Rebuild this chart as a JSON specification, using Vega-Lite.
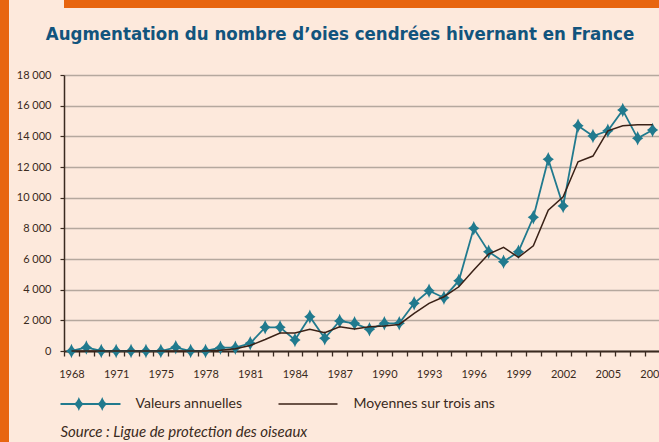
{
  "$schema": "https://vega.github.io/schema/vega-lite/v6.json",
  "padding": 0,
  "background": "#fde9dc",
  "config": {
    "view": {"stroke": null},
    "font": "Lato",
    "axisY": {
      "grid": true, "gridColor": "#b5a89e", "gridWidth": 1.5,
      "domainColor": "#3a2a20", "domainWidth": 1.5,
      "tickColor": "#3a2a20", "tickSize": 4, "tickWidth": 1.2,
      "labelFont": "Lato", "labelFontSize": 11, "labelColor": "#3a2a20", "labelPadding": 9,
      "labelOverlap": false, "minExtent": 55, "maxExtent": 55, "title": null
    },
    "axisX": {
      "grid": false, "domainColor": "#3a2a20", "domainWidth": 2,
      "tickColor": "#3a2a20", "tickSize": 5, "tickWidth": 1.3,
      "labelFont": "Lato", "labelFontSize": 11, "labelColor": "#3a2a20", "labelPadding": 12,
      "labelAngle": 0, "labelOverlap": false, "title": null
    }
  },
  "datasets": {
    "goose": [
      {"year": "1968", "annual": 0, "avg": 0},
      {"year": "1969", "annual": 230, "avg": 0},
      {"year": "1970", "annual": 0, "avg": 0},
      {"year": "1971", "annual": 0, "avg": 0},
      {"year": "1972", "annual": 0, "avg": 0},
      {"year": "1973", "annual": 0, "avg": 0},
      {"year": "1975", "annual": 0, "avg": 0},
      {"year": "1976", "annual": 240, "avg": 0},
      {"year": "1977", "annual": 0, "avg": 0},
      {"year": "1978", "annual": 0, "avg": 0},
      {"year": "1979", "annual": 215, "avg": 50},
      {"year": "1980", "annual": 215, "avg": 150},
      {"year": "1981", "annual": 500, "avg": 360},
      {"year": "1982", "annual": 1545, "avg": 750},
      {"year": "1983", "annual": 1545, "avg": 1170},
      {"year": "1984", "annual": 717, "avg": 1170},
      {"year": "1985", "annual": 2236, "avg": 1415},
      {"year": "1986", "annual": 828, "avg": 1190},
      {"year": "1987", "annual": 1956, "avg": 1585},
      {"year": "1988", "annual": 1806, "avg": 1434},
      {"year": "1989", "annual": 1415, "avg": 1585},
      {"year": "1990", "annual": 1806, "avg": 1630},
      {"year": "1991", "annual": 1806, "avg": 1730},
      {"year": "1992", "annual": 3110, "avg": 2458},
      {"year": "1993", "annual": 3930, "avg": 3110},
      {"year": "1994", "annual": 3475, "avg": 3540},
      {"year": "1995", "annual": 4585, "avg": 4190},
      {"year": "1996", "annual": 8000, "avg": 5280},
      {"year": "1997", "annual": 6475, "avg": 6325},
      {"year": "1998", "annual": 5820, "avg": 6760},
      {"year": "1999", "annual": 6475, "avg": 6110},
      {"year": "2000", "annual": 8720, "avg": 6865},
      {"year": "2001", "annual": 12500, "avg": 9190},
      {"year": "2002", "annual": 9450, "avg": 10060},
      {"year": "2003", "annual": 14690, "avg": 12340},
      {"year": "2004", "annual": 14020, "avg": 12715},
      {"year": "2005", "annual": 14365, "avg": 14360},
      {"year": "2006", "annual": 15710, "avg": 14690},
      {"year": "2007", "annual": 13870, "avg": 14755},
      {"year": "2008", "annual": 14410, "avg": 14755}
    ]
  },
  "spacing": 0,
  "align": "none",
  "resolve": {"scale": {"color": "independent", "shape": "independent"}},
  "hconcat": [
    {
      "width": 9, "height": 442,
      "data": {"values": [{"k": 1}]},
      "mark": {"type": "rect", "color": "#e8650f"},
      "encoding": {}
    },
    {
      "spacing": 16,
      "align": "none",
      "resolve": {"scale": {"color": "independent", "shape": "independent"}},
      "vconcat": [
        {
          "width": 650, "height": 8,
          "data": {"values": [{"k": 1}]},
          "mark": {"type": "rect", "color": "#e8650f"},
          "encoding": {}
        },
        {
          "width": 596, "height": 276,
          "data": {"name": "goose"},
          "title": {
            "text": "Augmentation du nombre d’oies cendrées hivernant en France",
            "font": "Liberation Sans Narrow, DejaVu Sans Condensed, sans-serif", "fontSize": 18.5, "fontWeight": "bold",
            "color": "#12547d", "anchor": "middle", "offset": 26, "dx": -22
          },
          "encoding": {
            "x": {
              "field": "year", "type": "ordinal", "sort": null, "bandPosition": 0.5,
              "scale": {"type": "band", "paddingInner": 0, "paddingOuter": 0},
              "axis": {
                "tickBand": "extent",
                "labelExpr": "indexof(['1968','1971','1975','1978','1981','1984','1987','1990','1993','1996','1999','2002','2005','2008'], datum.value) >= 0 ? datum.value : ''"
              }
            }
          },
          "layer": [
            {
              "mark": {"type": "line", "color": "#217a8e", "strokeWidth": 1.8},
              "encoding": {
                "y": {
                  "field": "annual", "type": "quantitative",
                  "scale": {"domain": [0, 18000], "nice": false},
                  "axis": {
                    "title": null, "tickCount": 20,
                    "values": [0, 2000, 4000, 6000, 8000, 10000, 12000, 14000, 16000, 18000],
                    "labelExpr": "replace(format(datum.value, ','), ',', ' ')"
                  }
                }
              }
            },
            {
              "mark": {
                "type": "point", "filled": true, "opacity": 1, "color": "#217a8e", "size": 210,
                "shape": "M0,-1Q0.25,-0.25 0.78,0Q0.25,0.25 0,1Q-0.25,0.25 -0.78,0Q-0.25,-0.25 0,-1Z"
              },
              "encoding": {"y": {"field": "annual", "type": "quantitative",
                "axis": {
                    "title": null, "tickCount": 20,
                    "values": [0, 2000, 4000, 6000, 8000, 10000, 12000, 14000, 16000, 18000],
                    "labelExpr": "replace(format(datum.value, ','), ',', ' ')"
                  }}}
            },
            {
              "mark": {"type": "line", "color": "#3a2116", "strokeWidth": 1.5},
              "encoding": {"y": {"field": "avg", "type": "quantitative",
                "axis": {
                    "title": null, "tickCount": 20,
                    "values": [0, 2000, 4000, 6000, 8000, 10000, 12000, 14000, 16000, 18000],
                    "labelExpr": "replace(format(datum.value, ','), ',', ' ')"
                  }}}
            },
            {
              "transform": [{"filter": "false"}],
              "mark": {"type": "point", "filled": true, "opacity": 1},
              "encoding": {
                "color": {
                  "field": "series", "type": "nominal",
                  "scale": {"domain": ["Valeurs annuelles", "Moyennes sur trois ans"], "range": ["#217a8e", "#3a2116"]},
                  "legend": {
                    "title": "Source : Ligue de protection des oiseaux",
                    "orient": "none", "legendX": -3.5, "legendY": 322, "padding": 0,
                    "direction": "horizontal", "columns": 2,
                    "titleOrient": "bottom", "titleAnchor": "start", "titleFontStyle": "italic",
                    "titleFontWeight": "normal", "titleFont": "Lato", "titleFontSize": 15,
                    "titleColor": "#3a2a20", "titlePadding": 14, "titleLimit": 500,
                    "labelFont": "Lato", "labelFontSize": 14, "labelColor": "#3a2a20",
                    "labelOffset": 61, "labelLimit": 400, "symbolSize": 196, "columnPadding": 36,
                    "symbolStrokeWidth": 0, "symbolOpacity": 1
                  }
                },
                "shape": {
                  "field": "series", "type": "nominal",
                  "scale": {
                    "domain": ["Valeurs annuelles", "Moyennes sur trois ans"],
                    "range": [
                      "M-1,-0.14L7.57,-0.14L7.57,0.14L-1,0.14ZM1.62,-1Q1.87,-0.25 2.4,0Q1.87,0.25 1.62,1Q1.37,0.25 0.84,0Q1.37,-0.25 1.62,-1ZM4.96,-1Q5.21,-0.25 5.74,0Q5.21,0.25 4.96,1Q4.71,0.25 4.18,0Q4.71,-0.25 4.96,-1Z",
                      "M-1,-0.11L7.43,-0.11L7.43,0.11L-1,0.11Z"
                    ]
                  },
                  "legend": {
                    "title": "Source : Ligue de protection des oiseaux",
                    "orient": "none", "legendX": -3.5, "legendY": 322, "padding": 0,
                    "direction": "horizontal", "columns": 2,
                    "titleOrient": "bottom", "titleAnchor": "start", "titleFontStyle": "italic",
                    "titleFontWeight": "normal", "titleFont": "Lato", "titleFontSize": 15,
                    "titleColor": "#3a2a20", "titlePadding": 14, "titleLimit": 500,
                    "labelFont": "Lato", "labelFontSize": 14, "labelColor": "#3a2a20",
                    "labelOffset": 61, "labelLimit": 400, "symbolSize": 196, "columnPadding": 36,
                    "symbolStrokeWidth": 0, "symbolOpacity": 1
                  }
                }
              }
            }
          ]
        }
      ]
    }
  ]
}
